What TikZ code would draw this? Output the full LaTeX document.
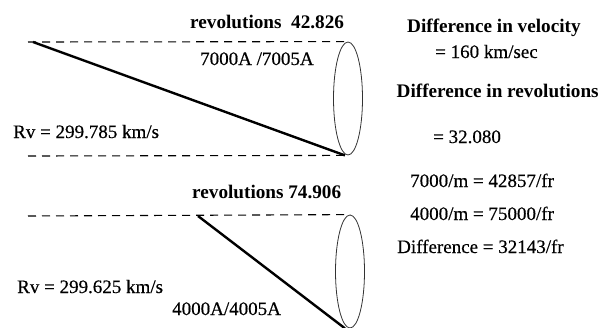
\documentclass[tikz,border=0pt]{standalone}
\usepackage{fontspec}
\setmainfont{Liberation Serif}
\newfontfamily\heavyreg{Liberation Serif}[FakeBold=0.4]
\usetikzlibrary{shapes.geometric}
\begin{document}
\begin{tikzpicture}[x=1pt,y=-1pt,
  reg/.style={font=\heavyreg\fontsize{19}{22}\selectfont, inner sep=0pt, anchor=base west},
  bld/.style={font=\fontsize{19.2}{22}\selectfont\bfseries, inner sep=0pt, anchor=base west},
  dashline/.style={line width=1.1pt, dash pattern=on 8pt off 6pt},
  beam/.style={line width=2.4pt},
  cone/.style={ellipse, draw=black!80, line width=0.8pt, inner sep=0pt, minimum width=29pt, minimum height=113pt}]
\useasboundingbox (0,0) rectangle (601,327);
\clip (0,0) rectangle (601,327);
% upper figure
\node[cone] (e1) at (348,98.5) {};
\coordinate (d1) at (28,42);
\coordinate (d2) at (28,156);
\coordinate (s1) at (33,42);
\draw[dashline] (d1) -- (e1.north);
\draw[dashline] (d2) -- (e1.south);
\draw[beam] (s1) -- ([xshift=-3pt]e1.south);
\node[bld] (rev1) at (190,28) {revolutions\ \ 42.826};
\node[reg] (w1) at (200,65) {7000A /7005A};
\node[reg] (rv1) at (13,138) {Rv = 299.785 km/s};
% lower figure
\node[cone] (e2) at (350,271.5) {};
\coordinate (d3) at (28,216);
\coordinate (s2) at (198,216);
\draw[dashline] (d3) -- (e2.north);
\draw[beam] (s2) -- ([xshift=-5pt]e2.south);
\node[bld] (rev2) at (192,198) {revolutions 74.906};
\node[reg] (rv2) at (17,293) {Rv = 299.625 km/s};
\node[reg] (w2) at (172,315) {4000A/4005A};
% right column
\node[bld] (dv) at (407,32) {Difference in velocity};
\node[reg] (dv2) at (435,58) {= 160 km/sec};
\node[bld] (dr) at (396.5,97) {Difference in revolutions};
\node[reg] (dr2) at (433,143) {= 32.080};
\node[reg] (m1) at (410,187) {7000/m = 42857/fr};
\node[reg] (m2) at (410,220) {4000/m =\ 75000/fr};
\node[reg] (m3) at (397,253) {Difference = 32143/fr};
\end{tikzpicture}
\end{document}
